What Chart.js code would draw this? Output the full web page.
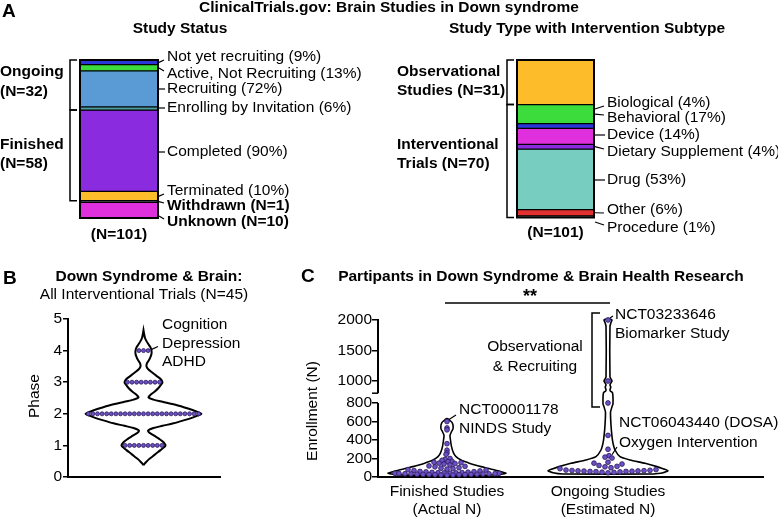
<!DOCTYPE html>
<html>
<head>
<meta charset="utf-8">
<script src="https://cdn.jsdelivr.net/npm/chart.js@4.4.1/dist/chart.umd.min.js"></script>
<style>
  html, body { margin: 0; padding: 0; background: #fff; }
  #wrap { position: relative; width: 778px; height: 518px; overflow: hidden; }
  #wrap canvas { position: absolute; left: 0; top: 0; }
</style>
</head>
<body>
<div id="wrap">
  <canvas id="statusChart" width="778" height="518"></canvas>
  <canvas id="typeChart" width="778" height="518"></canvas>
  <canvas id="phaseChart" width="778" height="518"></canvas>
  <canvas id="enrollChart" width="778" height="518"></canvas>
</div>
<script>
// ---------- data ----------
// A: study status (N=101)
var statusLabels = ['Not yet recruiting (9%)', 'Active, Not Recruiting (13%)', 'Recruiting (72%)',
  'Enrolling by Invitation (6%)', 'Completed (90%)', 'Terminated (10%)', 'Withdrawn (N=1)', 'Unknown (N=10)'];
var statusCounts = [3, 4, 23, 2, 52, 6, 1, 10];
var statusColors = ['#2b36d9', '#3bdc3b', '#5b9bd5', '#4c9e9c', '#8a2be0', '#fdbd2a', '#111111', '#e02fdc'];
var statusGroups = [['Ongoing', '(N=32)'], ['Finished', '(N=58)']];
var statusGroupSize = [4, 2];

// A: study type with intervention subtype
var typeLabels = ['Observational Studies', 'Behavioral (17%)', 'Biological (4%)', 'Device (14%)',
  'Dietary Supplement (4%)', 'Drug (53%)', 'Other (6%)', 'Procedure (1%)'];
var typeCounts = [28, 12, 3, 10, 3, 38, 4, 1];
var typeColors = ['#fdbd2a', '#3bdc3b', '#2b36d9', '#e02fdc', '#8a2be0', '#77cdbf', '#e0302f', '#222222'];
var typeGroups = [['Observational', 'Studies (N=31)'], ['Interventional', 'Trials (N=70)']];
var typeGroupSize = [1, 7];

// B: phase of interventional trials (N=45)
var phaseLevels = [1, 2, 3, 4];
var phaseTrials = [9, 25, 8, 3];
var phaseNotes = ['Cognition', 'Depression', 'ADHD'];
// violin outline: phase, relative width
var phaseShapeY = [0.38, 0.45, 0.55, 0.65, 0.75, 0.85, 0.93, 1.0, 1.1, 1.2, 1.3, 1.4, 1.47, 1.55, 1.62, 1.7, 1.8, 1.88, 1.94, 2.0,
  2.06, 2.12, 2.2, 2.3, 2.38, 2.45, 2.52, 2.6, 2.7, 2.8, 2.9, 3.0, 3.1, 3.2, 3.3, 3.4, 3.5, 3.6, 3.7, 3.8, 3.9, 4.0,
  4.1, 4.2, 4.3, 4.4, 4.52, 4.65];
var phaseShapeW = [0, 0.034, 0.086, 0.155, 0.224, 0.293, 0.345, 0.379, 0.345, 0.276, 0.19, 0.103, 0.078, 0.172, 0.328, 0.517, 0.707, 0.845, 0.931, 1,
  0.931, 0.845, 0.707, 0.517, 0.328, 0.172, 0.086, 0.121, 0.19, 0.25, 0.293, 0.328, 0.295, 0.224, 0.155, 0.086, 0.052, 0.06, 0.095, 0.121, 0.138, 0.138,
  0.121, 0.086, 0.052, 0.026, 0.012, 0];

// C: enrollment
var groupNames = [['Finished Studies', '(Actual N)'], ['Ongoing Studies', '(Estimated N)']];
var finishedN = [600, 530, 510, 360, 290, 260, 245, 200, 190, 180, 170, 165, 160, 155, 150, 145, 140,
  130, 120, 115, 110, 100, 95, 90, 85, 80, 75, 70, 65, 60, 58, 55, 52, 50, 48, 46, 45, 44, 42, 40, 40,
  38, 36, 35, 34, 33, 32, 30, 30, 28, 27, 26, 25, 24, 24, 22, 21, 20];
var ongoingN = [2000, 1000, 800, 450, 300, 230, 215, 205, 160, 150, 140, 125, 115, 110, 100, 90,
  80, 75, 72, 70, 68, 66, 65, 64, 62, 60, 60, 58, 55, 52, 50, 45];
var dosaN = 230;
var enrollTicks = [0, 200, 400, 600, 800, 1000, 1500, 2000];
// violin outlines: enrollment, relative width
var finishedShapeY = [20, 28, 40, 55, 75, 94, 112, 130, 155, 184, 220, 260, 328, 400, 450, 490, 520, 560, 590, 610, 625, 632];
var finishedShapeW = [0.7, 0.883, 0.983, 0.917, 0.8, 0.683, 0.567, 0.467, 0.35, 0.233, 0.15, 0.108, 0.075, 0.058, 0.05, 0.075, 0.1, 0.1, 0.083, 0.05, 0.025, 0];
var ongoingShapeY = [32, 45, 68, 90, 112, 148, 184, 220, 292, 367, 436, 560, 700, 760, 790, 810, 830, 860, 900, 935, 970, 1000, 1030, 1070, 1900, 1960, 2000, 2025];
var ongoingShapeW = [0.75, 0.917, 1, 0.917, 0.817, 0.617, 0.367, 0.2, 0.117, 0.083, 0.067, 0.05, 0.042, 0.067, 0.083, 0.075, 0.042, 0.033, 0.047, 0.033, 0.05, 0.067, 0.05, 0.033, 0.033, 0.05, 0.067, 0];

// ---------- layout ----------
var W = 778, H = 518;
var FONT = '"Liberation Sans", Arial, Helvetica, sans-serif';
var FS = 15.5;
var DOT_FILL = '#6b4fc4', DOT_EDGE = '#2b1b5a';

Chart.defaults.font.family = FONT;
Chart.defaults.font.size = FS;
Chart.defaults.color = '#000';
Chart.defaults.animation = false;
Chart.defaults.responsive = false;
Chart.defaults.events = [];
Chart.defaults.plugins.legend.display = false;
Chart.defaults.plugins.tooltip.enabled = false;

function txt(ctx, s, x, y, o) {
  o = o || {};
  ctx.save();
  ctx.font = (o.bold ? 'bold ' : '') + (o.size || FS) + 'px ' + FONT;
  ctx.fillStyle = '#000';
  ctx.textAlign = o.align || 'left';
  ctx.textBaseline = 'middle';
  if (o.rotate) { ctx.translate(x, y); ctx.rotate(o.rotate); ctx.fillText(s, 0, 0); }
  else ctx.fillText(s, x, y);
  ctx.restore();
}
function seg(ctx, pts, w) {
  ctx.save();
  ctx.strokeStyle = '#000';
  ctx.lineWidth = w || 1.5;
  ctx.beginPath();
  ctx.moveTo(pts[0], pts[1]);
  for (var i = 2; i < pts.length; i += 2) ctx.lineTo(pts[i], pts[i + 1]);
  ctx.stroke();
  ctx.restore();
}
function sum(a) { return a.reduce(function (s, v) { return s + v; }, 0); }

// ---------- panel A: two stacked bars ----------
function stackPanel(p) {
  var notes = {
    id: 'notes',
    afterDraw: function (chart) {
      var ctx = chart.ctx, ca = chart.chartArea, ys = chart.scales.y;
      ctx.save(); ctx.strokeStyle = '#000'; ctx.lineWidth = 2;
      ctx.strokeRect(ca.left, ca.top, ca.right - ca.left, ca.bottom - ca.top);
      ctx.restore();

      // segment labels with short leader ticks
      var covered = sum(p.groupSize), cum = 0;
      p.counts.forEach(function (c, i) {
        var mid = ys.getPixelForValue(cum + c / 2);
        cum += c;
        var ly = p.labelY[i];
        if (ly == null) return;
        var yb = Math.max(ly - 6, Math.min(ly + 6, mid));
        if (Math.abs(yb - ly) < 2.5) seg(ctx, [ca.right + 1, ly, p.labelX - 2, ly], 1.2);
        else seg(ctx, [ca.right + 1, yb, p.labelX - 3, ly + (yb > ly ? 3 : -3)], 1.2);
        txt(ctx, p.labels[i], p.labelX, ly, { bold: i >= covered });
      });

      // group brackets on the left
      var start = 0;
      p.groupSize.forEach(function (n, g) {
        var y0 = ys.getPixelForValue(sum(p.counts.slice(0, start)));
        var y1 = ys.getPixelForValue(sum(p.counts.slice(0, start + n)));
        seg(ctx, [p.bracketX + 7, y0, p.bracketX, y0, p.bracketX, y1, p.bracketX + 7, y1], 1.5);
        txt(ctx, p.groups[g][0], p.groupX, p.groupY[g][0], { bold: true });
        txt(ctx, p.groups[g][1], p.groupX, p.groupY[g][1], { bold: true });
        start += n;
      });

      txt(ctx, p.title, p.titleX, 29, { bold: true, align: 'center' });
      txt(ctx, '(N=' + p.total + ')', (ca.left + ca.right) / 2, p.totalY, { bold: true, align: 'center' });
      if (p.extra) p.extra(ctx);
    }
  };
  return new Chart(document.getElementById(p.id), {
    type: 'bar',
    data: {
      labels: [''],
      datasets: p.counts.map(function (c, i) {
        return {
          label: p.labels[i], data: [c], backgroundColor: p.colors[i],
          borderColor: '#000', borderWidth: 1, borderSkipped: false,
          barPercentage: 1, categoryPercentage: 1
        };
      })
    },
    options: {
      layout: { padding: { left: p.box.left, right: W - p.box.right, top: p.box.top, bottom: H - p.box.bottom } },
      scales: {
        x: { display: false, stacked: true },
        y: { display: false, stacked: true, reverse: true, min: 0, max: sum(p.counts) }
      }
    },
    plugins: [notes]
  });
}

stackPanel({
  id: 'statusChart', box: { left: 80, right: 158, top: 60, bottom: 218 },
  counts: statusCounts, colors: statusColors, labels: statusLabels,
  labelX: 167, labelY: [57, 74, 89, 108, 152, 191, 206, 222],
  groups: statusGroups, groupSize: statusGroupSize, groupX: 0, groupY: [[72, 92], [145, 164]],
  bracketX: 70, title: 'Study Status', titleX: 180, total: 101, totalY: 235,
  extra: function (ctx) {
    txt(ctx, 'A', 2, 12, { bold: true, size: 19 });
    txt(ctx, 'ClinicalTrials.gov: Brain Studies in Down syndrome', 389, 8, { bold: true, align: 'center' });
  }
});

stackPanel({
  id: 'typeChart', box: { left: 517, right: 594, top: 60, bottom: 217.5 },
  counts: typeCounts, colors: typeColors, labels: typeLabels,
  labelX: 607, labelY: [null, 118, 103, 135, 152, 180, 210, 228],
  groups: typeGroups, groupSize: typeGroupSize, groupX: 397, groupY: [[72, 91], [145, 164]],
  bracketX: 507, title: 'Study Type with Intervention Subtype', titleX: 587, total: 101, totalY: 233
});

// ---------- panel B: phase violin ----------
var boxB = { left: 68, right: 220, top: 319, bottom: 477 }, centerB = 143.5, halfB = 58, gapB = 4.6;

var phaseOutline = [];
phaseShapeY.forEach(function (y, i) { phaseOutline.push({ x: phaseShapeW[i], y: y }); });
for (var i = phaseShapeY.length - 1; i >= 0; i--) phaseOutline.push({ x: -phaseShapeW[i], y: phaseShapeY[i] });

var phaseDots = [];
phaseLevels.forEach(function (lvl, k) {
  var n = phaseTrials[k];
  for (var j = 0; j < n; j++) phaseDots.push({ x: (j - (n - 1) / 2) * gapB / halfB, y: lvl });
});

new Chart(document.getElementById('phaseChart'), {
  type: 'scatter',
  data: {
    datasets: [
      { data: phaseDots, pointRadius: 2, pointBackgroundColor: DOT_FILL, pointBorderColor: DOT_EDGE, pointBorderWidth: 0.8, clip: false },
      { data: phaseOutline, showLine: true, borderColor: '#000', borderWidth: 2, pointRadius: 0, tension: 0.3, clip: false }
    ]
  },
  options: {
    layout: { padding: { left: boxB.left - 40, right: W - boxB.right, top: boxB.top, bottom: H - boxB.bottom } },
    scales: {
      x: {
        type: 'linear', min: (boxB.left - centerB) / halfB, max: (boxB.right - centerB) / halfB,
        ticks: { display: false }, grid: { display: false, drawTicks: false },
        border: { color: '#000', width: 2 },
        afterFit: function (s) { s.height = 0; }
      },
      y: {
        min: 0, max: 5, ticks: { stepSize: 1, padding: 1 },
        grid: { drawOnChartArea: false, color: '#000', lineWidth: 1.5, tickLength: 5 },
        border: { color: '#000', width: 2 },
        afterFit: function (s) { s.width = 40; }
      }
    }
  },
  plugins: [{
    id: 'notesB',
    afterDraw: function (chart) {
      var ctx = chart.ctx;
      txt(ctx, 'B', 3, 279, { bold: true, size: 19 });
      txt(ctx, 'Down Syndrome & Brain:', 149, 277, { bold: true, align: 'center' });
      txt(ctx, 'All Interventional Trials (N=45)', 144, 295, { align: 'center' });
      txt(ctx, 'Phase', 35, 396, { align: 'center', rotate: -Math.PI / 2 });
      phaseNotes.forEach(function (s, i) { txt(ctx, s, 162, 325 + i * 18.4); });
      var pts = chart.getDatasetMeta(0).data;
      var last = pts[pts.length - 1];
      seg(ctx, [last.x + 3, last.y - 1, 158, 346.5], 1.2);
    }
  }]
});

// ---------- panel C: enrollment violins with broken axis ----------
var boxC = { left: 378, right: 763, top: 320, bottom: 477 }, catPx = [447, 608], halfC = 60;
var stepC = catPx[1] - catPx[0];
var breakAt = 800, axisTop = 2000, lowerShare = 0.4713, upperStart = 0.5338;
function toAxis(v) {
  if (v <= breakAt) return v / breakAt * lowerShare;
  return upperStart + (v - breakAt) / (axisTop - breakAt) * (1 - upperStart);
}
function widthAt(ys, ws, v) {
  if (v <= ys[0]) return ws[0];
  for (var i = 1; i < ys.length; i++) {
    if (v <= ys[i]) return ws[i - 1] + (ws[i] - ws[i - 1]) * (v - ys[i - 1]) / (ys[i] - ys[i - 1]);
  }
  return 0;
}
function outline(cat, ys, ws) {
  var out = [];
  ys.forEach(function (v, i) { out.push({ x: cat + ws[i] * halfC / stepC, y: toAxis(v) }); });
  for (var i = ys.length - 1; i >= 0; i--) out.push({ x: cat - ws[i] * halfC / stepC, y: toAxis(ys[i]) });
  out.push(out[0]);
  return out;
}
// simple beeswarm inside the violin, in pixels
function swarm(cat, vals, ys, ws) {
  var hPx = boxC.bottom - boxC.top, placed = [], out = [];
  var order = vals.map(function (v, i) { return i; }).sort(function (a, b) { return vals[a] - vals[b]; });
  order.forEach(function (i) {
    var y = hPx * toAxis(vals[i]);
    var lim = Math.max(0, widthAt(ys, ws, vals[i]) * halfC - 6);
    var best = 0, bestD = -1;
    for (var k = 0; k <= 2 * Math.ceil(lim); k++) {
      var off = (k % 2 ? 1 : -1) * Math.ceil(k / 2);
      if (Math.abs(off) > lim) continue;
      var dmin = Infinity;
      placed.forEach(function (p) { var d = Math.hypot(p[0] - off, p[1] - y); if (d < dmin) dmin = d; });
      if (dmin >= 5.5) { best = off; bestD = dmin; break; }
      if (dmin > bestD) { bestD = dmin; best = off; }
    }
    placed.push([best, y]);
    out[i] = { x: cat + best / stepC, y: toAxis(vals[i]) };
  });
  return out;
}

var dotStyle = { pointRadius: 2.4, pointBackgroundColor: DOT_FILL, pointBorderColor: DOT_EDGE, pointBorderWidth: 0.8, clip: false };
var lineStyle = { showLine: true, borderColor: '#000', borderWidth: 1.6, pointRadius: 0, tension: 0.2, clip: false };

new Chart(document.getElementById('enrollChart'), {
  type: 'scatter',
  data: {
    datasets: [
      Object.assign({ data: swarm(0, finishedN, finishedShapeY, finishedShapeW) }, dotStyle),
      Object.assign({ data: swarm(1, ongoingN, ongoingShapeY, ongoingShapeW) }, dotStyle),
      Object.assign({ data: outline(0, finishedShapeY, finishedShapeW) }, lineStyle),
      Object.assign({ data: outline(1, ongoingShapeY, ongoingShapeW) }, lineStyle)
    ]
  },
  options: {
    layout: { padding: { left: boxC.left - 60, right: W - boxC.right, top: boxC.top, bottom: 0 } },
    scales: {
      x: {
        type: 'linear', min: (boxC.left - catPx[0]) / stepC, max: (boxC.right - catPx[0]) / stepC,
        afterBuildTicks: function (s) { s.ticks = [{ value: 0 }, { value: 1 }]; },
        ticks: { callback: function (v, i) { return groupNames[i]; }, padding: 5, autoSkip: false, maxRotation: 0 },
        grid: { display: false, drawTicks: false },
        border: { color: '#000', width: 2 },
        afterFit: function (s) { s.height = H - boxC.bottom; }
      },
      y: {
        min: 0, max: 1,
        afterBuildTicks: function (s) { s.ticks = enrollTicks.map(function (v) { return { value: toAxis(v) }; }); },
        ticks: { callback: function (v, i) { return String(enrollTicks[i]); }, padding: 0, autoSkip: false },
        grid: { drawOnChartArea: false, color: '#000', lineWidth: 1.5, tickLength: 6 },
        border: { display: false },
        afterFit: function (s) { s.width = 60; }
      }
    }
  },
  plugins: [{
    id: 'notesC',
    afterDraw: function (chart) {
      var ctx = chart.ctx, ca = chart.chartArea, ys = chart.scales.y, xs = chart.scales.x;
      // broken y axis
      var y0 = ys.getPixelForValue(0), yBreakLo = ys.getPixelForValue(toAxis(breakAt));
      var yBreakHi = ys.getPixelForValue(upperStart), yTop = ys.getPixelForValue(1);
      seg(ctx, [ca.left, y0 + 1, ca.left, yBreakLo], 2);
      seg(ctx, [ca.left, yBreakHi, ca.left, yTop - 1], 2);
      seg(ctx, [ca.left - 6, yBreakHi, ca.left, yBreakHi], 1.5);

      txt(ctx, 'C', 301, 277, { bold: true, size: 19 });
      txt(ctx, 'Partipants in Down Syndrome & Brain Health Research', 541, 277, { bold: true, align: 'center' });
      txt(ctx, '**', 530, 297, { bold: true, size: 18, align: 'center' });
      seg(ctx, [xs.getPixelForValue(0) - 2, 303, xs.getPixelForValue(1) + 2, 303], 1.5);
      txt(ctx, 'Enrollment (N)', 313, 411, { align: 'center', rotate: -Math.PI / 2 });

      var fin = chart.getDatasetMeta(0).data, ong = chart.getDatasetMeta(1).data;
      var pTop = fin[finishedN.indexOf(Math.max.apply(null, finishedN))];
      seg(ctx, [pTop.x + 2, pTop.y - 2, 456, 415], 1.2);
      txt(ctx, 'NCT00001178', 459, 410);
      txt(ctx, 'NINDS Study', 459, 429);

      var pBio = ong[ongoingN.indexOf(Math.max.apply(null, ongoingN))];
      seg(ctx, [pBio.x + 2, pBio.y - 2, 613, 316], 1.2);
      txt(ctx, 'NCT03233646', 615, 315);
      txt(ctx, 'Biomarker Study', 615, 334);

      seg(ctx, [600, 313, 592, 313, 592, 407, 600, 407], 1.5);
      txt(ctx, 'Observational', 535, 347, { align: 'center' });
      txt(ctx, '& Recruiting', 535, 367, { align: 'center' });

      var pDosa = ong[ongoingN.indexOf(dosaN)];
      seg(ctx, [pDosa.x + 3, pDosa.y - 1, 617, 447], 1.2);
      txt(ctx, 'NCT06043440 (DOSA)', 619, 423);
      txt(ctx, 'Oxygen Intervention', 619, 443);
    }
  }]
});
</script>
</body>
</html>
